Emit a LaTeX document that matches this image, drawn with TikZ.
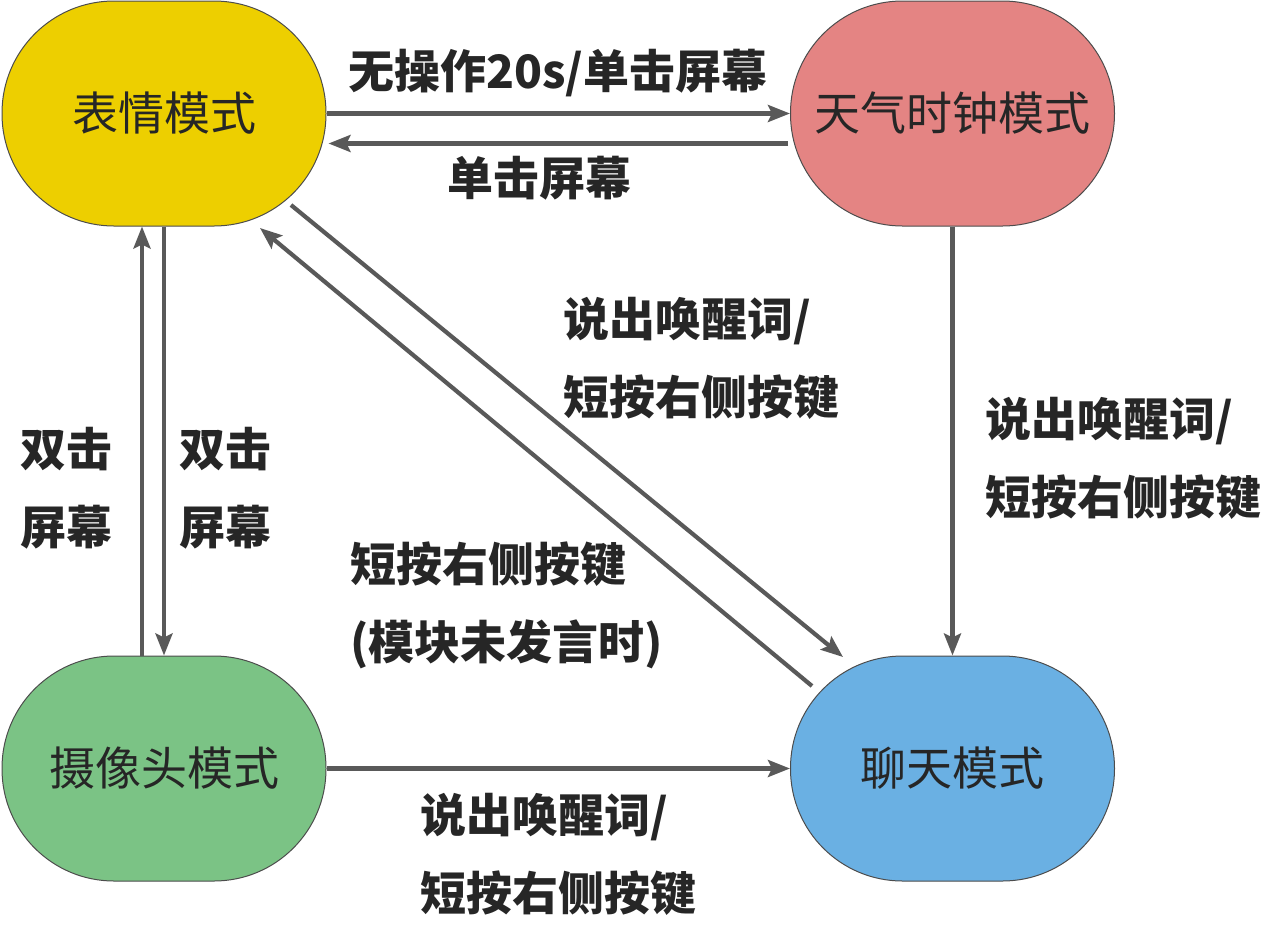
\documentclass[tikz,border=0pt]{standalone}
\usepackage{fontspec}
\setmainfont{Noto Sans CJK SC}
\usetikzlibrary{arrows.meta}
\definecolor{cy}{HTML}{EDCF00}
\definecolor{cr}{HTML}{E48483}
\definecolor{cg}{HTML}{7BC385}
\definecolor{cb}{HTML}{6AB0E3}
\definecolor{ln}{HTML}{595959}
\definecolor{tx}{HTML}{262626}
\tikzset{
  mode/.style={draw=black!70, line width=0.5pt, rounded corners=56pt,
    minimum width=162pt, minimum height=112.5pt, inner sep=0pt,
    text=tx, font=\fontsize{23}{27}\selectfont},
  conn/.style={draw=ln, line width=2.1pt,
    -{Stealth[length=11pt,width=8.5pt,inset=2pt]}},
  lbl/.style={inner sep=0pt, text=tx, align=left,
    font=\fontsize{23}{39}\selectfont\bfseries}
}
\begin{document}
\begin{tikzpicture}[x=0.5pt,y=-0.5pt]
\useasboundingbox (0,0) rectangle (1265,933);
\node[mode, fill=cy] (A) at (164,113.5) {表情模式};
\node[mode, fill=cr] (B) at (952.5,113.5) {天气时钟模式};
\node[mode, fill=cg] (C) at (164,768.5) {摄像头模式};
\node[mode, fill=cb] (D) at (952.5,768.5) {聊天模式};
% connectors
\draw[conn] (A.east) -- (B.west);
\draw[conn] ([shift={(-2,30)}]B.west) -- ([shift={(2,30)}]A.east);
\draw[conn] (A.south) -- (C.north);
\draw[conn] ([xshift=-11pt]C.north) -- ([xshift=-11pt]A.south);
\draw[conn] (B.south) -- (D.north);
\draw[conn] (C.east) -- (D.west);
\draw[conn] ([shift={(127,91.5)}]A.center) -- ([shift={(-109.5,-111.5)}]D.center);
\draw[conn] ([shift={(-140.5,-82.5)}]D.center) -- ([shift={(96,114.5)}]A.center);
% labels
\node[lbl] (l1) at (558,73) {无操作20s/单击屏幕};
\node[lbl] (l2) at (539,178) {单击屏幕};
\node[lbl, anchor=west] (l3) at (563,358) {说出唤醒词/\\短按右侧按键};
\node[lbl, anchor=west] (l4) at (985,458) {说出唤醒词/\\短按右侧按键};
\node[lbl] (l5) at (66,488) {双击\\屏幕};
\node[lbl] (l6) at (225,488) {双击\\屏幕};
\node[lbl, anchor=west] (l7) at (350,605) {短按右侧按键\\(模块未发言时)};
\node[lbl, anchor=west] (l8) at (420,854) {说出唤醒词/\\短按右侧按键};
\end{tikzpicture}
\end{document}
